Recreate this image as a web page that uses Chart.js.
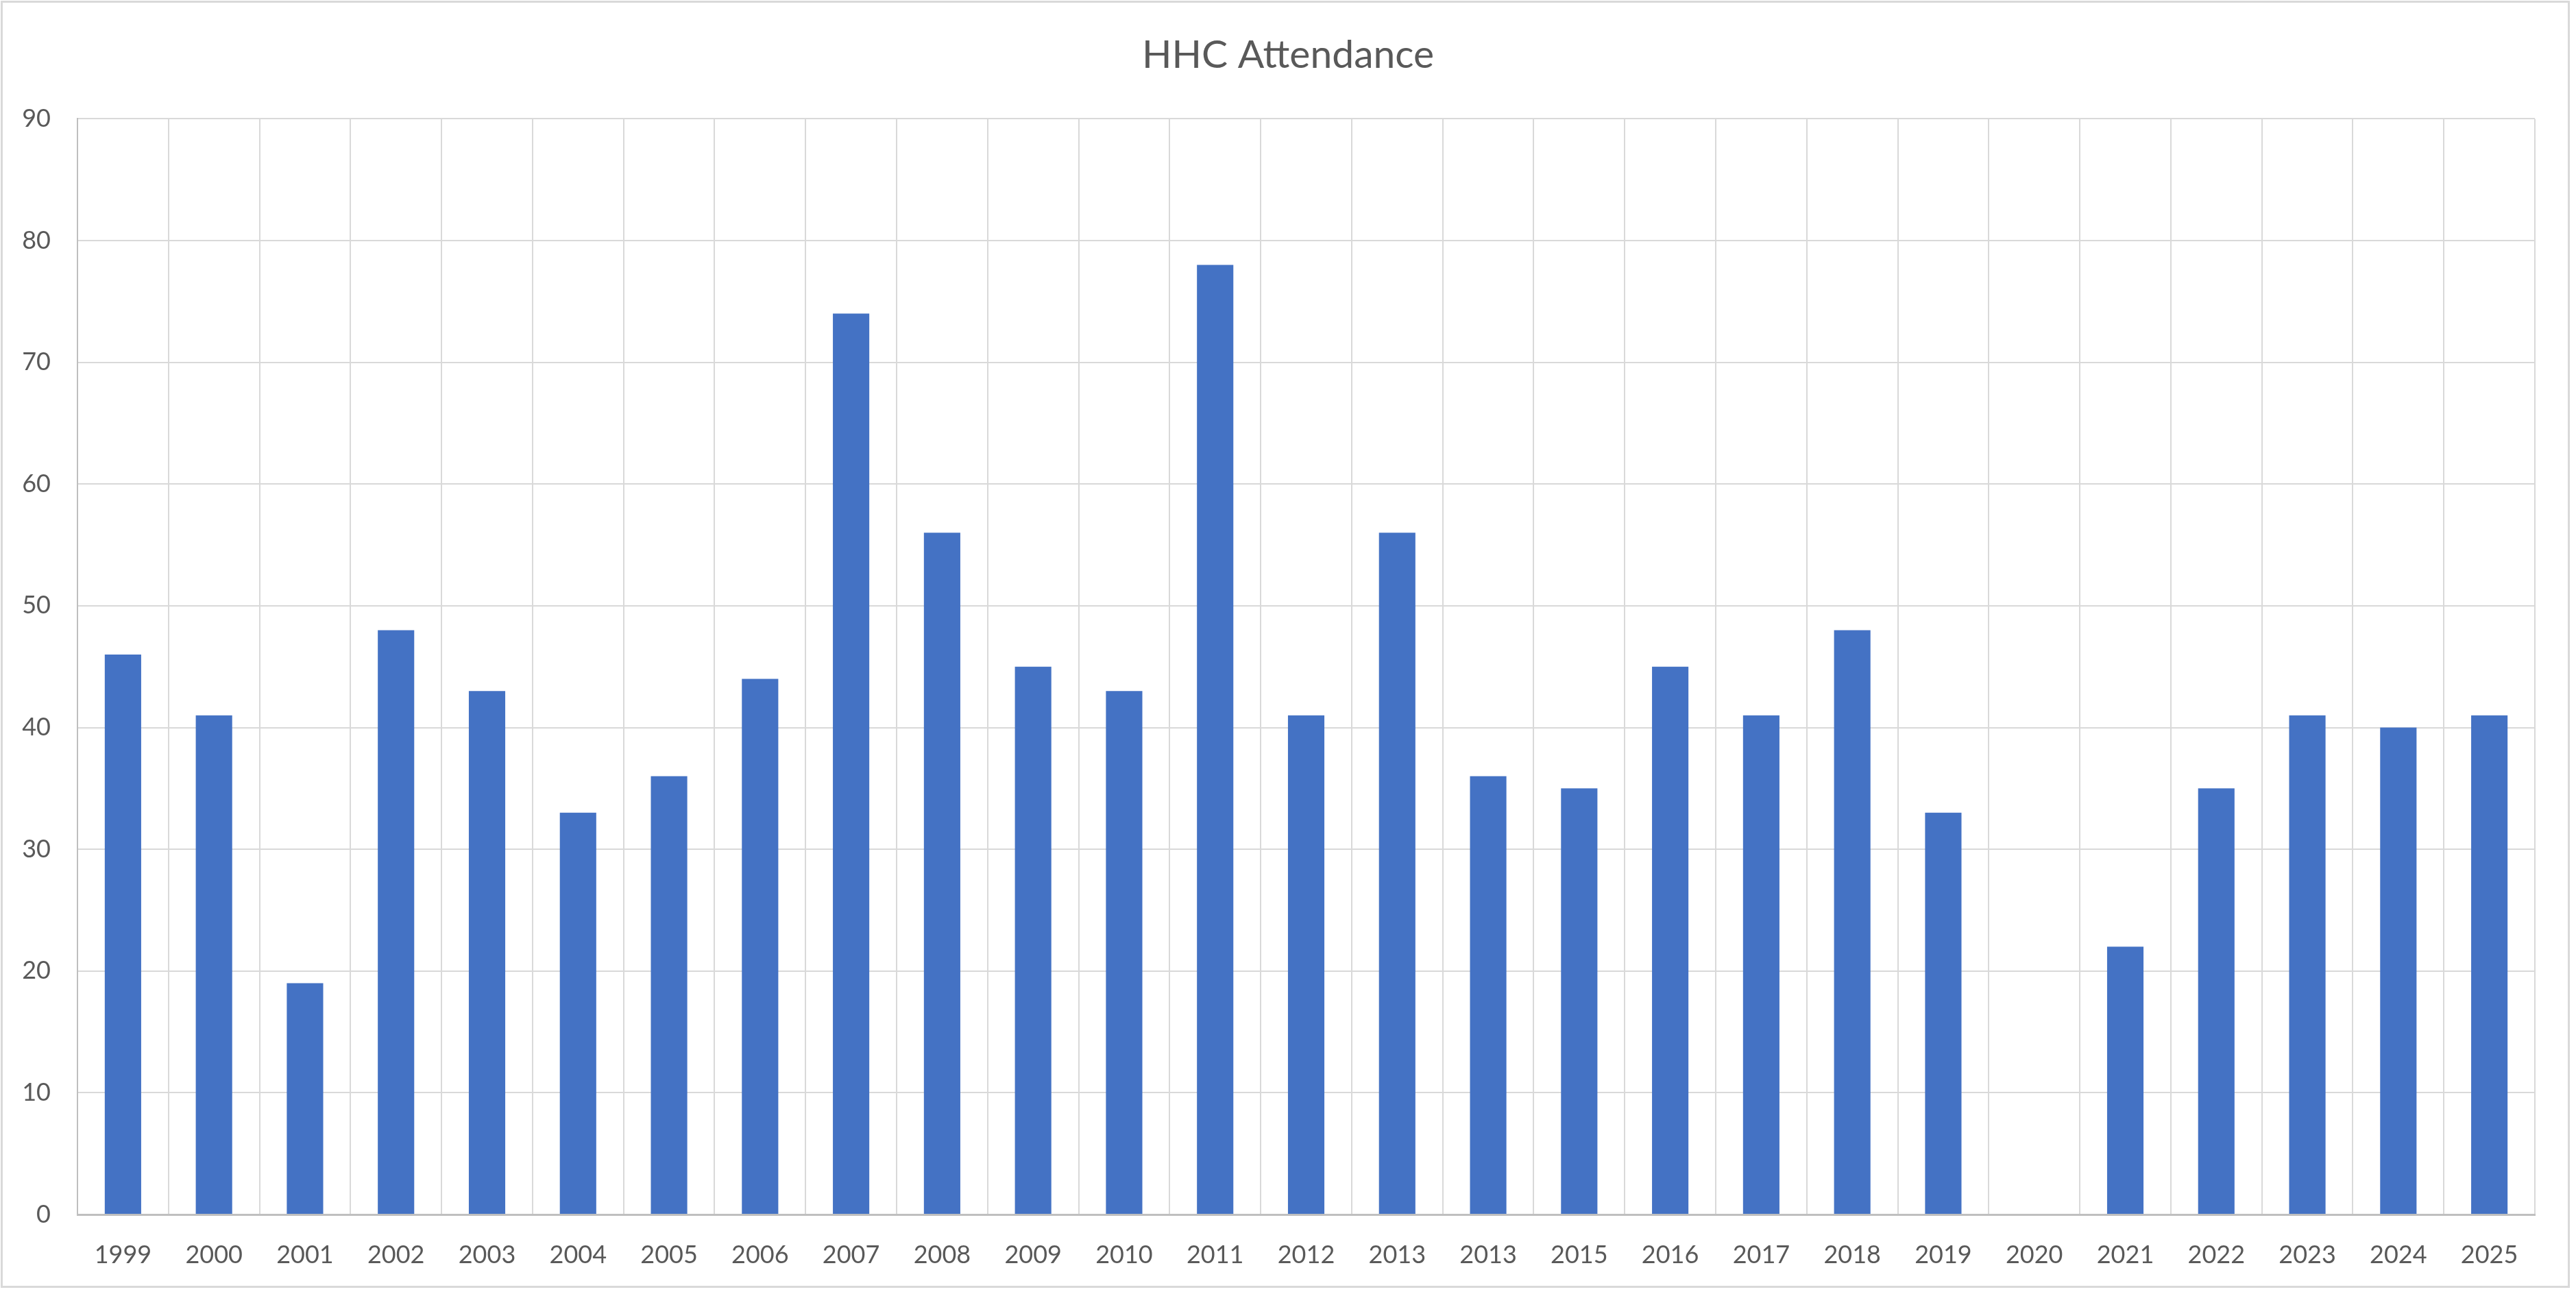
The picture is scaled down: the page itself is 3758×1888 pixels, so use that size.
<!DOCTYPE html>
<html>
<head>
<meta charset="utf-8">
<script src="https://cdn.jsdelivr.net/npm/chart.js@4"></script>
<style>
  html, body { margin: 0; padding: 0; background: #ffffff; }
  #wrap { position: relative; width: 3758px; height: 1888px; background: #ffffff; }
  #frame { position: absolute; left: 1px; top: 1px; width: 3748px; height: 1878px; border: 3px solid #D9D9D9; box-sizing: border-box; pointer-events: none; }
  canvas { position: absolute; left: 0; top: 0; }
</style>
</head>
<body>
<div id="wrap">
  <canvas id="c" width="3758" height="1888"></canvas>
  <div id="frame"></div>
</div>
<script>
const chartTitle = "HHC Attendance";
const years = ["1999","2000","2001","2002","2003","2004","2005","2006","2007","2008","2009","2010","2011","2012","2013","2013","2015","2016","2017","2018","2019","2020","2021","2022","2023","2024","2025"];
const attendance = [46, 41, 19, 48, 43, 33, 36, 44, 74, 56, 45, 43, 78, 41, 56, 36, 35, 45, 41, 48, 33, null, 22, 35, 41, 40, 41];
const yMin = 0;
const yMax = 90;
const yStep = 10;

const textColor = "#595959";
const fontFamily = "Lato, 'Open Sans', sans-serif";

new Chart(document.getElementById("c"), {
  type: "bar",
  data: {
    labels: years,
    datasets: [{
      label: "Attendance",
      data: attendance,
      backgroundColor: "#4472C4",
      borderWidth: 0,
      categoryPercentage: 1.0,
      barPercentage: 0.4
    }]
  },
  options: {
    responsive: false,
    devicePixelRatio: 1,
    animation: false,
    layout: { padding: { left: 0, right: 0, top: 0, bottom: 0 } },
    plugins: {
      legend: { display: false },
      tooltip: { enabled: false },
      title: {
        display: true,
        text: chartTitle,
        color: textColor,
        font: { family: fontFamily, size: 57, weight: "normal", lineHeight: 1.2 },
        padding: { top: 46, bottom: 59 }
      }
    },
    scales: {
      x: {
        grid: { display: true, color: "#D9D9D9", lineWidth: 2, drawTicks: false, offset: true },
        border: { display: true, color: "#BFBFBF", width: 3 },
        ticks: {
          color: textColor,
          font: { family: fontFamily, size: 36 },
          padding: 38,
          maxRotation: 0,
          autoSkip: false
        },
        afterFit: function (s) { s.height = 116; }
      },
      y: {
        min: yMin,
        max: yMax,
        grid: { display: true, color: "#D9D9D9", lineWidth: 2, drawTicks: false },
        border: { display: true, color: "#BFBFBF", width: 2 },
        ticks: {
          stepSize: yStep,
          color: textColor,
          font: { family: fontFamily, size: 36 },
          padding: 39
        },
        afterFit: function (s) { s.width = 113; }
      },
      yRightMargin: {
        type: "linear",
        position: "right",
        display: true,
        grid: { display: false, drawTicks: false },
        border: { display: false },
        ticks: { display: false },
        afterFit: function (s) { s.width = 60; }
      }
    }
  }
});
</script>
</body>
</html>
